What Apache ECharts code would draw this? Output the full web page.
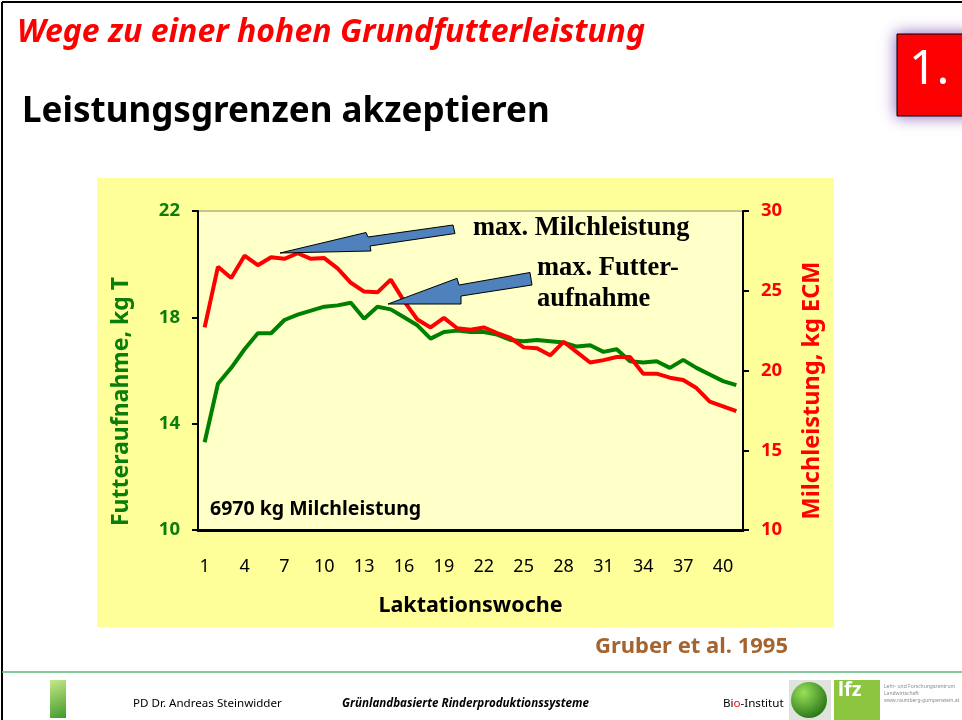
<!DOCTYPE html>
<html lang="de">
<head>
<meta charset="UTF-8">
<title>Leistungsgrenzen akzeptieren</title>
<script src="https://cdn.jsdelivr.net/npm/echarts@6/dist/echarts.min.js"></script>
<style>
  html, body { margin: 0; padding: 0; background: #fff; }
  #chart { width: 962px; height: 720px; }
</style>
</head>
<body>
<div id="chart"></div>
<script>
// Laktationswoche 1..41
const weeks = ['1','2','3','4','5','6','7','8','9','10','11','12','13','14','15','16','17','18','19','20',
  '21','22','23','24','25','26','27','28','29','30','31','32','33','34','35','36','37','38','39','40','41']

// Futteraufnahme, kg T (linke Achse)
const futter = [13.3, 15.5, 16.1, 16.8, 17.4, 17.4, 17.9, 18.1, 18.25, 18.4, 18.45, 18.55, 17.95, 18.4, 18.3,
  18.0, 17.7, 17.2, 17.45, 17.5, 17.45, 17.45, 17.35, 17.15, 17.1, 17.15, 17.1, 17.05, 16.9, 16.95,
  16.7, 16.8, 16.35, 16.3, 16.35, 16.1, 16.4, 16.1, 15.85, 15.6, 15.45]

// Milchleistung, kg ECM (rechte Achse)
const milch = [22.7, 26.5, 25.8, 27.2, 26.6, 27.1, 27.0, 27.35, 27.0, 27.05, 26.4, 25.5, 24.95, 24.9, 25.7,
  24.35, 23.2, 22.7, 23.3, 22.65, 22.55, 22.7, 22.35, 22.05, 21.45, 21.4, 20.95, 21.8, 21.15, 20.5,
  20.65, 20.85, 20.85, 19.8, 19.8, 19.55, 19.4, 18.9, 18.05, 17.75, 17.45]

const green = '#0a7d0a'
const sans = '"Noto Sans", sans-serif'
const serif = '"Liberation Serif", "DejaVu Serif", serif'

var chart = echarts.init(document.getElementById('chart'))

chart.setOption({
  animation: false,
  backgroundColor: '#fff',
  grid: {
    left: 198, top: 211, width: 545, height: 319,
    show: true, backgroundColor: '#ffffc8', borderColor: '#8a8a70', borderWidth: 1
  },
  xAxis: {
    type: 'category',
    data: weeks,
    boundaryGap: true,
    axisLine: { lineStyle: { color: '#000', width: 3 } },
    axisTick: { show: false },
    axisLabel: { interval: 2, margin: 28, color: '#000', fontSize: 18, fontFamily: sans },
    name: 'Laktationswoche',
    nameLocation: 'middle',
    nameGap: 65,
    nameTextStyle: { color: '#000', fontSize: 21.5, fontWeight: 'bold', fontFamily: sans }
  },
  yAxis: [{
    type: 'value', min: 10, max: 22, interval: 4,
    axisLine: { show: true, lineStyle: { color: '#000', width: 2 } },
    axisTick: { show: true, length: 6, lineStyle: { color: '#000', width: 2 } },
    splitLine: { show: false },
    axisLabel: { margin: 18, color: green, fontSize: 18.5, fontWeight: 'bold', fontFamily: sans },
    name: 'Futteraufnahme, kg T',
    nameLocation: 'middle',
    nameRotate: 90,
    nameGap: 65,
    nameTextStyle: { color: green, fontSize: 23, fontWeight: 'bold', fontFamily: sans, padding: [0, 62, 0, 0] }
  }, {
    type: 'value', min: 10, max: 30, interval: 5, position: 'right',
    axisLine: { show: true, lineStyle: { color: '#000', width: 2 } },
    axisTick: { show: true, length: 6, lineStyle: { color: '#000', width: 2 } },
    splitLine: { show: false },
    axisLabel: { margin: 18, color: '#ff0000', fontSize: 18.5, fontWeight: 'bold', fontFamily: sans },
    name: 'Milchleistung, kg ECM',
    nameLocation: 'middle',
    nameRotate: 90,
    nameGap: 57,
    nameTextStyle: { color: '#ff0000', fontSize: 23.5, fontWeight: 'bold', fontFamily: sans, padding: [0, 40, 0, 0] }
  }],
  series: [{
    name: 'Futteraufnahme',
    type: 'line',
    yAxisIndex: 0,
    data: futter,
    symbol: 'none',
    lineStyle: { color: '#008000', width: 4 },
    z: 3
  }, {
    name: 'Milchleistung',
    type: 'line',
    yAxisIndex: 1,
    data: milch,
    symbol: 'none',
    lineStyle: { color: '#ff0000', width: 4 },
    z: 4
  }],
  graphic: [
    // Folienrahmen
    { type: 'line', shape: { x1: 2, y1: 2, x2: 962, y2: 2 }, style: { stroke: '#000', lineWidth: 2 }, z: -5 },
    { type: 'line', shape: { x1: 2, y1: 2, x2: 2, y2: 720 }, style: { stroke: '#000', lineWidth: 2 }, z: -5 },
    // gelber Diagrammhintergrund
    { type: 'rect', shape: { x: 97, y: 178, width: 737, height: 449 }, style: { fill: '#ffff99' }, z: -10 },
    // Titel
    { type: 'text', left: 17, top: 17, style: { text: 'Wege zu einer hohen Grundfutterleistung', fill: '#ff0000',
      font: 'italic bold 32px "Noto Sans"' } },
    { type: 'text', left: 22, top: 95, style: { text: 'Leistungsgrenzen akzeptieren', fill: '#000',
      font: 'bold 35px "Noto Sans"' } },
    // "1." Kasten
    { type: 'rect', shape: { x: 897, y: 34, width: 80, height: 82 },
      style: { fill: '#ff0000', stroke: '#000', lineWidth: 1, shadowBlur: 14, shadowColor: 'rgba(112,60,170,0.8)' } },
    { type: 'text', left: 909, top: 46, style: { text: '1.', fill: '#fff', font: '48px "Noto Sans"' } },
    // Pfeile
    { type: 'polygon', shape: { points: [[280, 253], [366, 232.5], [368, 237], [453, 225], [455, 233.5], [370, 246], [371, 251]] },
      style: { fill: '#4f81bd', stroke: '#000', lineWidth: 1 }, z: 10 },
    { type: 'polygon', shape: { points: [[388, 304], [457, 278.3], [459, 285], [530, 272.5], [532, 285], [461, 296], [461, 304]] },
      style: { fill: '#4f81bd', stroke: '#000', lineWidth: 1 }, z: 10 },
    { type: 'text', left: 473, top: 215, style: { text: 'max. Milchleistung', fill: '#000', font: 'bold 26.5px ' + serif }, z: 10 },
    { type: 'text', left: 537, top: 253, style: { text: 'max. Futter-\naufnahme', fill: '#000', font: 'bold 26.5px ' + serif, lineHeight: 31 }, z: 10 },
    { type: 'text', left: 210, top: 499, style: { text: '6970 kg Milchleistung', fill: '#000', font: 'bold 19.5px "Noto Sans"' }, z: 10 },
    // Quelle
    { type: 'text', left: 595, top: 636, style: { text: 'Gruber et al. 1995', fill: '#a5642f', font: 'bold 22px "Noto Sans"' } },
    // Fusszeile
    { type: 'line', shape: { x1: 2, y1: 672, x2: 962, y2: 672 }, style: { stroke: '#5cb878', lineWidth: 1.5 } },
    { type: 'rect', shape: { x: 50, y: 680, width: 16, height: 38 },
      style: { fill: new echarts.graphic.LinearGradient(0, 0, 1, 1, [{ offset: 0, color: '#c6e88a' }, { offset: 1, color: '#3f9a2a' }]) } },
    { type: 'text', left: 133, top: 698, style: { text: 'PD Dr. Andreas Steinwidder', fill: '#000', font: '11.6px "Noto Sans"' } },
    { type: 'text', left: 342, top: 698, style: { text: 'Grünlandbasierte Rinderproduktionssysteme', fill: '#000', font: 'italic bold 11.6px "Noto Sans"' } },
    { type: 'text', left: 723, top: 698, style: { text: '{a|Bi}{b|o}{a|-Institut}',
      rich: { a: { fill: '#000', font: '11.6px "Noto Sans"' }, b: { fill: '#ff0000', font: '11.6px "Noto Sans"' } } } },
    { type: 'rect', shape: { x: 789, y: 680, width: 42, height: 40 }, style: { fill: '#dfe3dd' } },
    { type: 'circle', shape: { cx: 809, cy: 700, r: 18 },
      style: { fill: new echarts.graphic.RadialGradient(0.35, 0.3, 0.8, [{ offset: 0, color: '#9be05a' }, { offset: 1, color: '#1f6e12' }]) } },
    { type: 'rect', shape: { x: 834, y: 680, width: 46, height: 40 }, style: { fill: '#8cc63f' } },
    { type: 'text', left: 838, top: 680, style: { text: 'lfz', fill: '#fff', font: 'bold 20px "Noto Sans"' } },
    { type: 'text', left: 884, top: 683, style: { text: 'Lehr- und Forschungszentrum\nLandwirtschaft\nwww.raumberg-gumpenstein.at',
      fill: '#8a8a8a', font: '5px "Noto Sans"', lineHeight: 7 } }
  ]
})
</script>
</body>
</html>
